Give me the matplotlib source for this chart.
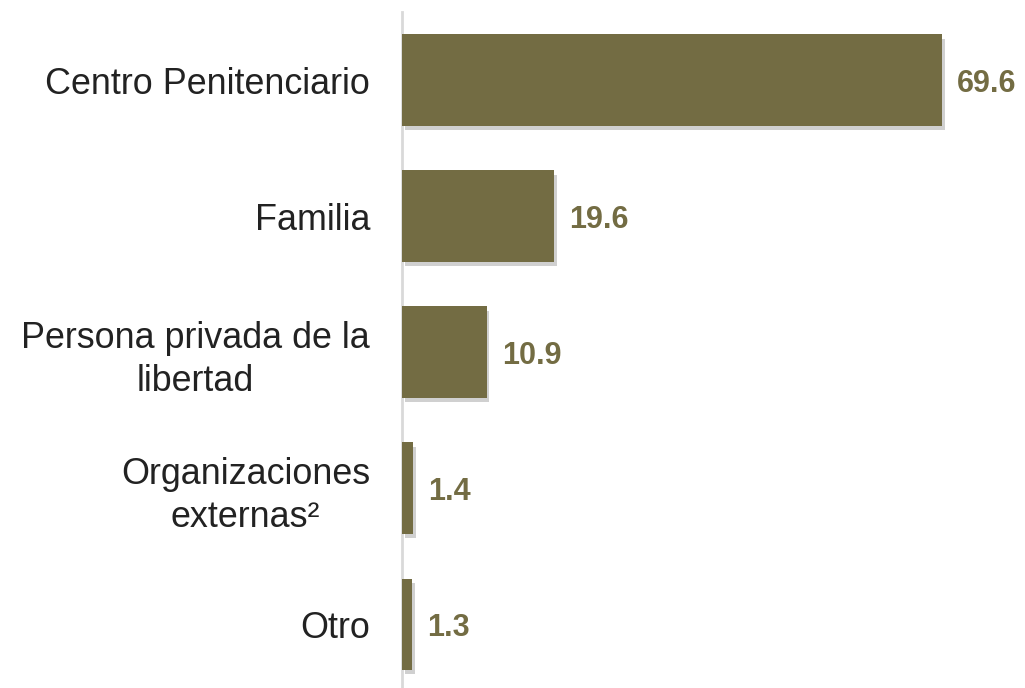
import matplotlib
matplotlib.use("Agg")
import matplotlib.pyplot as plt
import matplotlib.patheffects as pe
from matplotlib import font_manager

categories = ["Centro Penitenciario", "Familia", "Persona privada de la\nlibertad",
              "Organizaciones\nexternas²", "Otro"]
values = [69.6, 19.6, 10.9, 1.4, 1.3]

bar_color = "#736C43"

names = {f.name for f in font_manager.fontManager.ttflist}
label_font = "Liberation Sans" if "Liberation Sans" in names else "DejaVu Sans"

W, H = 1025, 688
fig = plt.figure(figsize=(W / 100, H / 100), dpi=100)
ax = fig.add_axes([402 / W, 0, (W - 402) / W, 1 - 12 / H])

y = list(range(len(categories)))
bars = ax.barh(y, values, height=0.67, color=bar_color, zorder=3)
for b in bars:
    b.set_path_effects([pe.SimplePatchShadow(offset=(2, -3), shadow_rgbFace="#666666", alpha=0.3),
                        pe.Normal()])

ax.set_ylim(4.47, -0.5)
ax.set_xlim(0, 80.3)
ax.set_yticks(y)
ax.set_yticklabels(categories, fontsize=25.8, fontfamily=label_font, color="#222222",
                   ha="right", multialignment="center", linespacing=1.3)
ax.tick_params(axis="y", length=0, pad=23)
ax.set_xticks([])
for s in ["top", "right", "bottom"]:
    ax.spines[s].set_visible(False)
ax.spines["left"].set_color("#d9d9d9")
ax.spines["left"].set_linewidth(2)

for yi, v in zip(y, values):
    ax.annotate(f"{v:.1f}", xy=(v, yi), xytext=(11, -3), textcoords="offset points",
                va="center", ha="left", fontsize=22, fontweight="bold",
                fontfamily=label_font, color=bar_color)

fig.savefig("out.png", dpi=100)
